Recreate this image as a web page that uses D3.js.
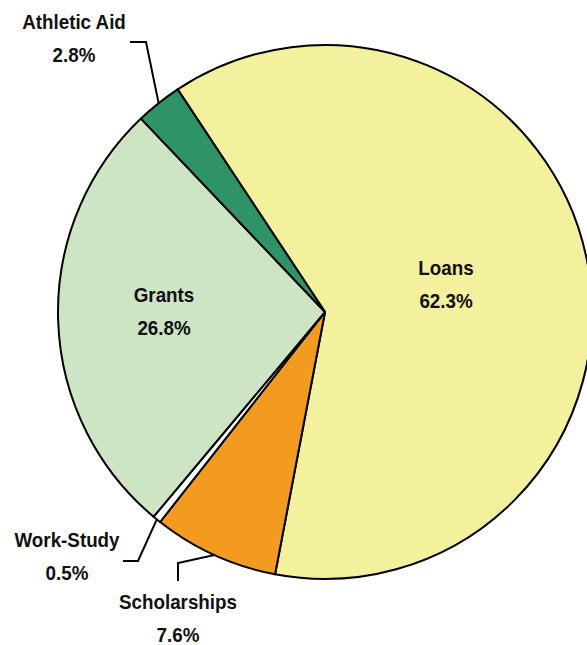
<!DOCTYPE html>
<html><head><meta charset="utf-8">
<script src="https://cdn.jsdelivr.net/npm/d3@7"></script>
<style>
html,body{margin:0;padding:0;background:#fff;}
svg{display:block;}
text{font-family:"Liberation Sans Narrow","Liberation Sans",Arial,sans-serif;font-weight:bold;font-size:20px;fill:#111;}
</style></head>
<body>
<script>
// Data
const categories = ["Loans","Scholarships","Work-Study","Grants","Athletic Aid"];
const values = [62.3, 7.6, 0.5, 26.8, 2.8];
const valueLabels = ["62.3%","7.6%","0.5%","26.8%","2.8%"];
const colors = ["#F3F09E","#F39A21","#FFFFFF","#CDE5C5","#2E9468"];

// Layout
const W = 587, H = 645;
const cx = 325, cy = 312, R = 267;
const startDeg = -33.5;
const textScaleX = 0.94;
// label anchor (center x, name baseline y); leader: [elbow, end] or null
const labelPos = [
  {x:446, y:275, leader:null},
  {x:178, y:609, leader:[[178,563],[178,581]]},
  {x:67,  y:547, leader:[[138,561],[123,561]]},
  {x:164, y:302, leader:null},
  {x:74,  y:29,  leader:[[146,42],[130,42]]}
];

const svg = d3.select("body").append("svg").attr("width",W).attr("height",H);
const g = svg.append("g").attr("transform",`translate(${cx},${cy})`);

const data = categories.map((c,i)=>({name:c,value:values[i],label:valueLabels[i],color:colors[i],pos:labelPos[i]}));
const a0 = startDeg*Math.PI/180;
const pie = d3.pie().value(d=>d.value).sort(null).startAngle(a0).endAngle(a0+2*Math.PI);
const arc = d3.arc().innerRadius(0).outerRadius(R);
const arcs = pie(data);

g.selectAll("path.slice").data(arcs).join("path")
  .attr("class","slice")
  .attr("d",arc)
  .attr("fill",d=>d.data.color)
  .attr("stroke","#000")
  .attr("stroke-width",2)
  .attr("stroke-linejoin","round");

// leader lines
arcs.forEach(d=>{
  const p = d.data.pos;
  if(!p.leader) return;
  const mid = (d.startAngle+d.endAngle)/2;
  const sx = cx + R*Math.sin(mid), sy = cy - R*Math.cos(mid);
  const pts = [[sx,sy]].concat(p.leader);
  svg.append("path").attr("d",d3.line()(pts))
    .attr("fill","none").attr("stroke","#000").attr("stroke-width",2);
});

// labels
function addText(x,y,t){
  svg.append("text")
    .attr("transform",`translate(${x},${y}) scale(${textScaleX},1)`)
    .attr("text-anchor","middle").text(t);
}
arcs.forEach(d=>{
  const p = d.data.pos;
  addText(p.x, p.y, d.data.name);
  addText(p.x, p.y+33, d.data.label);
});
</script>
</body></html>
